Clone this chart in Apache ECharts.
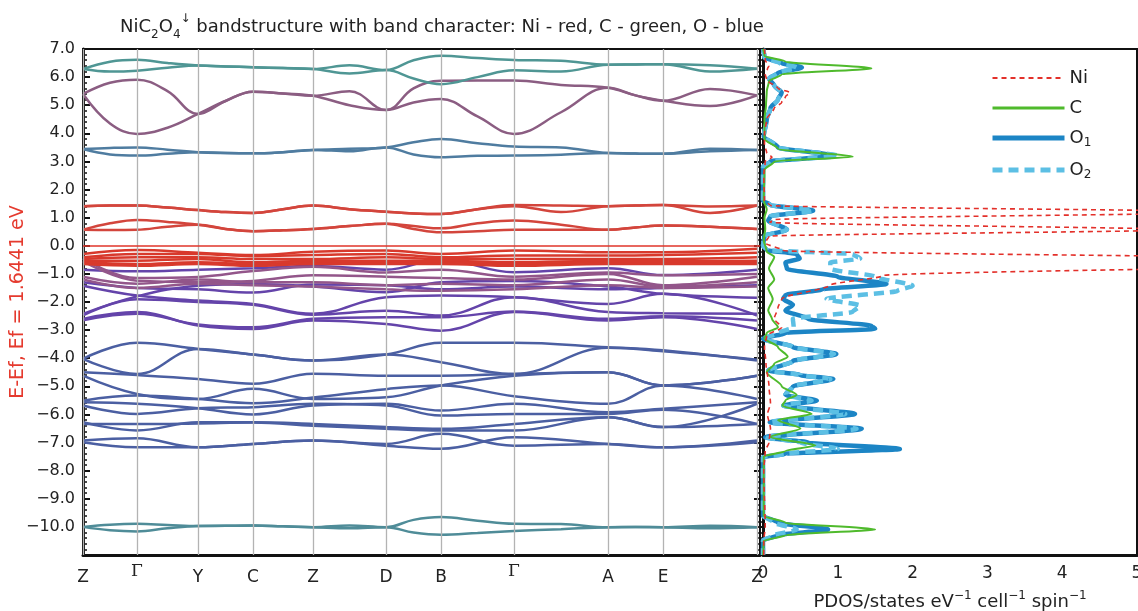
<!DOCTYPE html>
<html>
<head>
	<meta charset="utf-8">
	<title>NiC2O4 bands</title>
	<script src="https://cdn.jsdelivr.net/npm/echarts@6/dist/echarts.min.js"></script>
</head>
<body style="margin:0">
	<div id="chart" style="width:1138px;height:611px;"></div>
	<script type="text/javascript">
		// k-path (high symmetry points + midpoints)
		var kSym = [0, 54, 115, 170, 230, 303, 358, 431, 525, 580, 674];
		var kFine = [0, 27, 54, 84.5, 115, 142.5, 170, 200, 230, 266.5, 303, 330.5, 358, 394.5, 431, 478, 525, 552.5, 580, 627, 674];
		var kLabels = ['Z', 'Γ', 'Y', 'C', 'Z', 'D', 'B', 'Γ', 'A', 'E', 'Z'];

		// bands, energies in eV relative to Ef
		var tealTop = [
			[6.29, 6.55, 6.62, 6.5, 6.41, 6.38, 6.35, 6.32, 6.29, 6.42, 6.25, 6.6, 6.76, 6.68, 6.61, 6.58, 6.44, 6.45, 6.46, 6.42, 6.3],
			[6.29, 6.2, 6.23, 6.33, 6.41, 6.38, 6.35, 6.32, 6.29, 6.13, 6.25, 5.95, 5.75, 6.0, 6.24, 6.2, 6.44, 6.45, 6.46, 6.2, 6.3]
		];
		var purpleTop = [
			[5.40, 5.8, 5.91, 5.5, 4.69, 5.15, 5.48, 5.42, 5.34, 5.5, 4.83, 5.6, 5.87, 5.88, 5.88, 5.72, 5.62, 5.35, 5.16, 5.58, 5.35],
			[5.40, 4.35, 3.98, 4.2, 4.69, 5.15, 5.48, 5.42, 5.34, 5.0, 4.83, 5.1, 5.22, 4.6, 3.98, 4.75, 5.62, 5.35, 5.16, 4.97, 5.35]
		];
		var oxyBands = [
			[3.44, 3.48, 3.50, 3.42, 3.33, 3.3, 3.29, 3.33, 3.41, 3.45, 3.50, 3.68, 3.80, 3.65, 3.53, 3.5, 3.30, 3.28, 3.27, 3.45, 3.41],
			[3.44, 3.25, 3.21, 3.27, 3.33, 3.3, 3.29, 3.33, 3.41, 3.36, 3.50, 3.25, 3.15, 3.2, 3.21, 3.24, 3.30, 3.28, 3.27, 3.36, 3.41]
		];
		var niUpper = [
			[1.41, 1.43, 1.43, 1.36, 1.27, 1.2, 1.17, 1.3, 1.43, 1.3, 1.21, 1.15, 1.13, 1.3, 1.45, 1.43, 1.41, 1.43, 1.45, 1.4, 1.43],
			[1.41, 1.43, 1.43, 1.36, 1.27, 1.2, 1.17, 1.3, 1.43, 1.3, 1.21, 1.15, 1.13, 1.3, 1.41, 1.2, 1.41, 1.43, 1.45, 1.17, 1.43],
			[0.57, 0.8, 0.92, 0.85, 0.75, 0.6, 0.52, 0.55, 0.60, 0.7, 0.78, 0.7, 0.62, 0.8, 0.90, 0.75, 0.57, 0.65, 0.72, 0.68, 0.60],
			[0.57, 0.56, 0.57, 0.68, 0.75, 0.6, 0.52, 0.55, 0.60, 0.7, 0.78, 0.6, 0.48, 0.52, 0.57, 0.57, 0.57, 0.65, 0.72, 0.68, 0.60]
		];
		var niDense = [
			[-0.29, -0.15, -0.25, -0.33, -0.21, -0.17, -0.29, -0.17, -0.23, -0.23, -0.11],
			[-0.41, -0.29, -0.29, -0.37, -0.33, -0.29, -0.41, -0.35, -0.35, -0.33, -0.25],
			[-0.47, -0.41, -0.41, -0.47, -0.47, -0.41, -0.47, -0.47, -0.47, -0.47, -0.41],
			[-0.53, -0.53, -0.47, -0.59, -0.53, -0.53, -0.53, -0.59, -0.53, -0.55, -0.53],
			[-0.59, -0.65, -0.59, -0.65, -0.59, -0.59, -0.59, -0.65, -0.59, -0.59, -0.59],
			[-0.65, -0.71, -0.65, -0.71, -0.65, -0.65, -0.65, -0.71, -0.65, -0.65, -0.65]
		];
		var mauveBands = [
			[-0.45, -1.15, -1.11, -0.90, -0.75, -0.95, -0.85, -1.10, -0.95, -1.05, -1.00],
			[-0.55, -1.24, -1.29, -1.25, -1.05, -1.10, -1.15, -1.20, -1.00, -1.40, -1.10],
			[-1.10, -1.35, -1.20, -1.30, -1.30, -1.40, -1.35, -1.40, -1.20, -1.45, -1.30],
			[-1.20, -1.50, -1.35, -1.40, -1.45, -1.55, -1.60, -1.55, -1.40, -1.50, -1.45]
		];
		var violetBands = [
			[-0.85, -0.91, -0.85, -0.80, -0.72, -0.85, -0.49, -0.94, -0.80, -1.04, -0.85],
			[-1.30, -1.50, -1.55, -1.66, -1.38, -1.40, -1.55, -1.45, -1.55, -1.50, -1.40],
			[-1.42, -1.77, -1.95, -2.07, -2.42, -1.83, -1.77, -1.83, -2.07, -1.71, -2.48],
			[-2.42, -1.80, -1.42, -1.36, -1.45, -1.65, -1.30, -1.25, -1.45, -1.71, -1.85],
			[-2.48, -1.90, -2.00, -2.10, -2.45, -2.31, -2.48, -1.83, -2.36, -2.40, -2.42],
			[-2.60, -2.36, -2.84, -2.96, -2.66, -2.78, -3.02, -2.36, -2.66, -2.54, -2.96],
			[-2.65, -2.42, -2.80, -2.90, -2.60, -2.54, -2.54, -2.34, -2.60, -2.51, -2.66]
		];
		var blueBands = [
			[-4.02, -3.45, -3.67, -3.87, -4.08, -3.87, -3.45, -3.45, -3.61, -3.72, -4.08],
			[-4.02, -4.56, -3.67, -3.87, -4.08, -3.87, -4.14, -4.56, -3.63, -3.75, -4.05],
			[-4.50, -4.60, -4.74, -4.91, -4.55, -4.62, -4.62, -4.56, -4.50, -4.97, -4.62],
			[-4.62, -5.27, -5.45, -5.09, -5.45, -5.39, -4.97, -4.62, -4.50, -4.97, -4.62],
			[-5.51, -5.33, -5.45, -5.60, -5.40, -5.10, -4.97, -5.35, -5.62, -4.97, -5.45],
			[-5.57, -5.62, -5.78, -6.00, -5.68, -5.62, -5.86, -5.62, -5.92, -5.80, -5.57],
			[-5.68, -5.98, -5.78, -5.74, -5.62, -5.68, -6.04, -5.98, -5.98, -5.83, -6.34],
			[-6.28, -6.57, -6.28, -6.28, -6.34, -6.45, -6.51, -6.34, -6.10, -6.45, -6.34],
			[-6.34, -6.34, -6.32, -6.29, -6.40, -6.51, -6.57, -6.57, -6.10, -6.45, -5.62],
			[-6.93, -6.85, -7.17, -7.05, -6.93, -7.05, -6.69, -7.11, -7.05, -7.17, -6.93],
			[-6.99, -7.17, -7.17, -7.05, -6.93, -7.11, -7.22, -6.81, -7.05, -7.17, -6.99]
		];
		var tealLow = [
			[-10.0, -9.92, -9.89, -9.93, -9.97, -9.96, -9.95, -9.98, -10.01, -9.95, -10.01, -9.75, -9.65, -9.78, -9.89, -9.9, -10.01, -10.0, -10.01, -9.96, -10.01],
			[-10.0, -10.12, -10.16, -10.05, -9.97, -9.96, -9.95, -9.98, -10.01, -10.05, -10.01, -10.2, -10.28, -10.22, -10.15, -10.08, -10.01, -10.0, -10.01, -10.05, -10.01]
		];

		// PDOS: [energy, states]
		var pdosNi = [[7.0, 0.02], [6.6, 0.03], [6.4, 0.08], [6.3, 0.06], [6.1, 0.03], [5.9, 0.05], [5.6, 0.2], [5.45, 0.36], [5.3, 0.3], [5.1, 0.25], [4.9, 0.15], [4.5, 0.05], [4.0, 0.02], [3.6, 0.02], [3.3, 0.05], [3.15, 0.12], [3.0, 0.03], [2.5, 0.01], [1.6, 0.02], [1.43, 0.1], [1.2, 6.4], [0.93, 0.15], [0.835, 0.09], [0.57, 5.6], [0.34, 0.08], [0.1, 0.03], [-0.17, 0.27], [-0.55, 10.0], [-1.06, 1.61], [-1.4, 0.9], [-1.89, 0.25], [-2.2, 0.2], [-2.6, 0.15], [-2.9, 0.25], [-3.2, 0.05], [-3.6, 0.02], [-4.2, 0.04], [-5.0, 0.08], [-5.6, 0.1], [-6.0, 0.06], [-6.5, 0.1], [-7.0, 0.08], [-7.3, 0.03], [-8.0, 0.01], [-10.0, 0.03], [-10.5, 0.01], [-11.0, 0.01]];
		var pdosC = [[7.0, 0], [6.75, 0.02], [6.55, 0.3], [6.31, 1.45], [6.1, 0.25], [5.85, 0.08], [5.5, 0.05], [5.0, 0.04], [4.5, 0.02], [3.8, 0.02], [3.45, 0.2], [3.17, 1.2], [3.0, 0.15], [2.7, 0.02], [1.6, 0.01], [1.3, 0.05], [1.0, 0.02], [0.6, 0.03], [0.2, 0.01], [-0.2, 0.05], [-0.4, 0.15], [-0.8, 0.08], [-1.2, 0.15], [-1.5, 0.07], [-1.9, 0.13], [-2.3, 0.07], [-2.6, 0.12], [-2.9, 0.2], [-3.1, 0.05], [-3.3, 0.02], [-3.6, 0.2], [-3.95, 0.33], [-4.2, 0.15], [-4.5, 0.05], [-5.0, 0.25], [-5.3, 0.45], [-5.5, 0.3], [-5.68, 0.26], [-5.98, 0.65], [-6.2, 0.2], [-6.5, 0.5], [-6.8, 0.1], [-7.1, 0.7], [-7.3, 0.3], [-7.5, 0.01], [-9.6, 0.01], [-9.85, 0.3], [-10.09, 1.5], [-10.3, 0.3], [-10.5, 0.01], [-11.0, 0]];
		var pdosO1 = [[7.0, 0], [6.7, 0.02], [6.5, 0.25], [6.34, 0.52], [6.15, 0.2], [5.95, 0.08], [5.7, 0.15], [5.45, 0.25], [5.2, 0.2], [4.9, 0.1], [4.5, 0.05], [3.9, 0.01], [3.5, 0.2], [3.2, 0.95], [3.0, 0.1], [2.8, 0], [1.6, 0], [1.45, 0.1], [1.25, 0.67], [1.05, 0.1], [0.9, 0.07], [0.57, 0.32], [0.35, 0.02], [0.0, 0], [-0.15, 0.05], [-0.3, 0.45], [-0.45, 0.49], [-0.6, 0.3], [-0.82, 0.32], [-1.1, 1.0], [-1.36, 1.65], [-1.55, 0.8], [-1.75, 0.3], [-1.89, 0.27], [-2.1, 0.4], [-2.3, 0.3], [-2.6, 0.6], [-2.85, 1.45], [-2.95, 1.5], [-3.1, 0.3], [-3.31, 0], [-3.6, 0.4], [-3.85, 0.98], [-4.1, 0.4], [-4.44, 0.07], [-4.6, 0.5], [-4.74, 0.94], [-5.0, 0.4], [-5.3, 0.3], [-5.51, 0.72], [-5.68, 0.27], [-5.98, 1.23], [-6.28, 0.09], [-6.51, 1.32], [-6.81, 0.03], [-7.0, 0.6], [-7.23, 1.83], [-7.4, 0.3], [-7.52, 0], [-9.6, 0], [-9.85, 0.2], [-10.09, 0.87], [-10.3, 0.2], [-10.48, 0], [-11.0, 0]];
		var pdosO2 = [[7.0, 0], [6.7, 0.02], [6.5, 0.22], [6.34, 0.45], [6.15, 0.2], [5.95, 0.08], [5.7, 0.15], [5.45, 0.25], [5.2, 0.2], [4.9, 0.1], [4.5, 0.05], [3.9, 0.01], [3.5, 0.2], [3.2, 1.0], [3.0, 0.1], [2.8, 0], [1.6, 0], [1.45, 0.1], [1.25, 0.67], [1.05, 0.1], [0.9, 0.07], [0.57, 0.32], [0.35, 0.02], [0.0, 0], [-0.15, 0.05], [-0.3, 1.2], [-0.45, 1.3], [-0.6, 0.9], [-0.82, 0.9], [-1.1, 1.5], [-1.42, 2.0], [-1.6, 1.8], [-1.89, 0.85], [-2.13, 1.3], [-2.35, 1.2], [-2.6, 0.4], [-2.9, 0.41], [-3.1, 0.2], [-3.31, 0], [-3.6, 0.4], [-3.85, 0.95], [-4.1, 0.4], [-4.44, 0.07], [-4.6, 0.5], [-4.74, 0.9], [-5.0, 0.4], [-5.3, 0.3], [-5.51, 0.65], [-5.68, 0.27], [-5.98, 1.1], [-6.28, 0.09], [-6.51, 1.25], [-6.81, 0.03], [-7.0, 0.5], [-7.23, 1.0], [-7.4, 0.3], [-7.52, 0], [-9.6, 0], [-9.85, 0.15], [-10.09, 0.45], [-10.3, 0.15], [-10.48, 0], [-11.0, 0]];

		var font = 'DejaVu Sans';
		var series = [];

		function addBands(list, color) {
			list.forEach(function (band) {
				var ks = band.length === kFine.length ? kFine : kSym;
				series.push({
					type: 'line', xAxisIndex: 0, yAxisIndex: 0, silent: true,
					symbol: 'none', smooth: 0.4,
					lineStyle: { color: color, width: 2.5 },
					data: band.map(function (e, i) { return [ks[i], e]; })
				});
			});
		}

		addBands(tealLow, '#4f8c98');
		addBands(blueBands, '#4b5fa2');
		addBands(violetBands, '#6444aa');
		addBands(mauveBands, '#93568a');
		addBands(niDense, '#d8392c');
		addBands(niUpper, '#d3453c');
		addBands(oxyBands, '#4f7ca0');
		addBands(purpleTop, '#8b5d82');
		addBands(tealTop, '#4f9694');

		// k-point lines with labels, and Fermi level
		series[0].markLine = {
			silent: true, symbol: ['none', 'none'],
			lineStyle: { color: '#b3b3b3', width: 1.3, type: 'solid' },
			label: { show: true, position: 'start', formatter: '{b}', distance: 14, fontSize: 17, color: '#222', fontFamily: font },
			data: kSym.map(function (k, i) {
				var d = { xAxis: k, name: kLabels[i] };
				if (kLabels[i] === 'Γ') d.label = { fontFamily: 'DejaVu Serif', distance: 8 };
				return d;
			})
		};
		series[1].markLine = {
			silent: true, symbol: ['none', 'none'],
			lineStyle: { color: '#e0352a', width: 1.5, type: 'solid' },
			label: { show: false },
			data: [{ yAxis: 0 }]
		};

		function addPdos(name, pts, color, width, dash, z) {
			series.push({
				name: name, type: 'line', xAxisIndex: 1, yAxisIndex: 1,
				symbol: 'none', smooth: 0.25, smoothMonotone: 'y', z: z,
				lineStyle: { color: color, width: width, type: dash },
				itemStyle: { color: color },
				data: pts.map(function (p) { return [p[1], p[0]]; })
			});
		}
		addPdos('O1', pdosO1, '#1c85c5', 4.5, 'solid', 3);
		addPdos('O2', pdosO2, '#5cbfe4', 4.5, [10, 6], 4);
		addPdos('C', pdosC, '#4fba2c', 2, 'solid', 5);
		addPdos('Ni', pdosNi, '#e3302a', 1.6, [5, 4], 6);

		var myChart = echarts.init(document.getElementById('chart'));
		var option = {
			backgroundColor: '#fff',
			animation: false,
			title: {
				text: '{n|NiC}{s|2}{n|O}{s|4}{u|↓}{n| bandstructure with band character: Ni - red, C - green, O - blue}',
				left: 437, top: 8, textAlign: 'center',
				textStyle: {
					fontWeight: 'normal',
					rich: {
						n: { fontSize: 18, color: '#222', fontFamily: font, fontWeight: 'normal', lineHeight: 28, verticalAlign: 'middle' },
						s: { fontSize: 12, color: '#222', fontFamily: font, fontWeight: 'normal', lineHeight: 28, verticalAlign: 'bottom' },
						u: { fontSize: 12, color: '#222', fontFamily: font, fontWeight: 'normal', lineHeight: 28, verticalAlign: 'top' }
					}
				}
			},
			legend: {
				orient: 'vertical', left: 985, top: 64,
				itemWidth: 72, itemHeight: 14, itemGap: 12,
				itemStyle: { opacity: 0 },
				data: [
					{ name: 'Ni', lineStyle: { width: 2, type: [5, 4] } },
					{ name: 'C', lineStyle: { width: 3 } },
					{ name: 'O1', lineStyle: { width: 5 } },
					{ name: 'O2', lineStyle: { width: 5, type: [10, 6] } }
				],
				formatter: function (name) {
					if (name.charAt(0) === 'O') return '{n|O}{s|' + name.charAt(1) + '}';
					return '{n|' + name + '}';
				},
				textStyle: {
					rich: {
						n: { fontSize: 18, color: '#222', fontFamily: font, lineHeight: 22, verticalAlign: 'middle' },
						s: { fontSize: 12, color: '#222', fontFamily: font, lineHeight: 22, verticalAlign: 'bottom' }
					}
				}
			},
			grid: [
				{ left: 83, top: 49, width: 677, height: 506, show: true, borderColor: '#111', borderWidth: 2, outerBoundsMode: 'none', containLabel: false },
				{ left: 763, top: 49, width: 374, height: 506, show: true, borderColor: '#111', borderWidth: 2, outerBoundsMode: 'none', containLabel: false }
			],
			xAxis: [
				{
					gridIndex: 0, type: 'value', min: 0, max: 677,
					axisLine: { onZero: false, lineStyle: { color: '#111', width: 3 } },
					axisTick: { show: false }, axisLabel: { show: false }, splitLine: { show: false }
				},
				{
					gridIndex: 1, type: 'value', min: 0, max: 5, interval: 1,
					axisLine: { onZero: false, lineStyle: { color: '#111', width: 3 } },
					axisTick: { show: false },
					axisLabel: { fontSize: 17, color: '#222', fontFamily: font, margin: 10 },
					splitLine: { show: false },
					name: '{n|PDOS/states eV}{p|−1}{n| cell}{p|−1}{n| spin}{p|−1}',
					nameLocation: 'middle', nameGap: 35,
					nameTextStyle: {
						rich: {
							n: { fontSize: 18, color: '#222', fontFamily: font, lineHeight: 24, verticalAlign: 'middle' },
							p: { fontSize: 12, color: '#222', fontFamily: font, lineHeight: 24, verticalAlign: 'top' }
						}
					}
				}
			],
			yAxis: [
				{
					gridIndex: 0, type: 'value', min: -11, max: 7, interval: 1,
					axisLine: { onZero: false, lineStyle: { color: '#111', width: 3 } },
					axisTick: { inside: true, length: 7, lineStyle: { color: '#111', width: 2 } },
					minorTick: { show: true, splitNumber: 5, length: 4, lineStyle: { color: '#111', width: 1.5 } },
					axisLabel: {
						fontSize: 16, color: '#222', fontFamily: font, margin: 8,
						formatter: function (v) { return v === -11 ? '' : v.toFixed(1).replace('-', '−'); }
					},
					splitLine: { show: false },
					name: 'E-Ef, Ef = 1.6441 eV', nameLocation: 'middle', nameGap: 55, nameMoveOverlap: false,
					nameTextStyle: { color: '#e53a2e', fontSize: 19, fontFamily: font }
				},
				{
					gridIndex: 1, type: 'value', min: -11, max: 7, interval: 1,
					axisLine: { onZero: false, lineStyle: { color: '#111', width: 3 } },
					axisTick: { inside: false, length: 9, lineStyle: { color: '#111', width: 2 } },
					minorTick: { show: true, splitNumber: 5, length: 5, lineStyle: { color: '#111', width: 1.5 } },
					axisLabel: { show: false },
					splitLine: { show: false }
				}
			],
			series: series
		};
		myChart.setOption(option);
	</script>
</body>
</html>
